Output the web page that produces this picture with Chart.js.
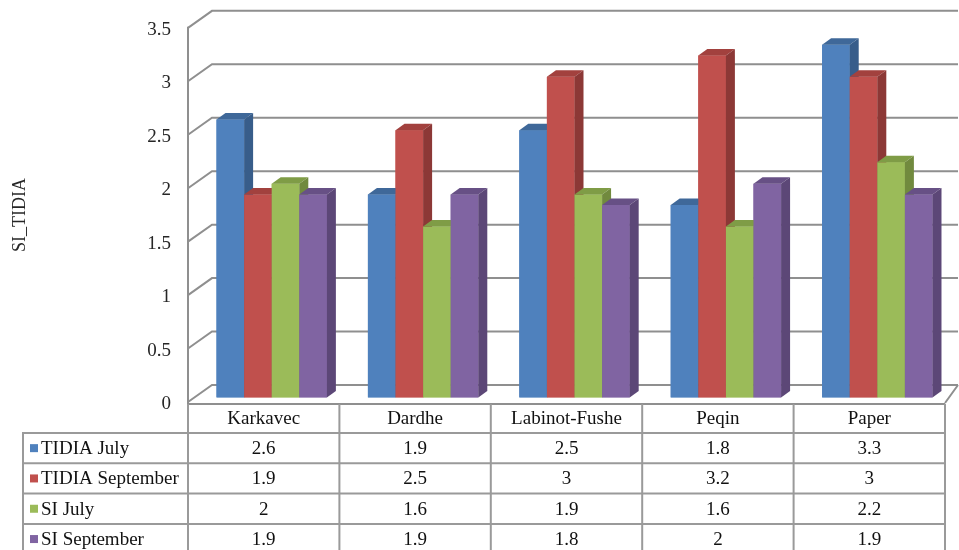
<!DOCTYPE html>
<html>
<head>
<meta charset="utf-8">
<title>SI_TIDIA</title>
<script src="https://cdn.jsdelivr.net/npm/chart.js@4.4.1/dist/chart.umd.min.js"></script>
<style>
  html, body { margin: 0; padding: 0; background: #ffffff; }
  canvas { display: block; }
</style>
</head>
<body>
<canvas id="chart" width="959" height="550"></canvas>
<script>
// ---- data ----
const categories = ['Karkavec', 'Dardhe', 'Labinot-Fushe', 'Peqin', 'Paper'];
const seriesNames = ['TIDIA July', 'TIDIA September', 'SI July', 'SI September'];
const tidiaJuly = [2.6, 1.9, 2.5, 1.8, 3.3];
const tidiaSeptember = [1.9, 2.5, 3, 3.2, 3];
const siJuly = [2, 1.6, 1.9, 1.6, 2.2];
const siSeptember = [1.9, 1.9, 1.8, 2, 1.9];
const yTicks = [0, 0.5, 1, 1.5, 2, 2.5, 3, 3.5];
const axisTitle = 'SI_TIDIA';

const seriesValues = [tidiaJuly, tidiaSeptember, siJuly, siSeptember];

// ---- styling ----
const frontColors = ['#4F81BD', '#C0504D', '#9BBB59', '#8064A2'];
const topColors   = ['#3F6899', '#A2413E', '#7F9C46', '#675085'];
const sideColors  = ['#385D8A', '#8C3836', '#718A3E', '#5C4777'];
const FONT = '"Liberation Serif", "Times New Roman", serif';
const GRID = '#8f8f8f';
const TABLE_LINE = '#9a9a9a';

// the bars stand a little behind the front edge of the floor
const SHIFT_X = 8, SHIFT_Y = 4.5;
// back wall offset at the left and right ends
const WALL_L = { dx: 24, dy: -17 };
const WALL_R = { dx: 13, dy: -17 };
// depth of a single bar
const BAR_D = { dx: 9, dy: -6.5 };

function geom(chart) {
  const xs = chart.scales.x, ys = chart.scales.y;
  const left = xs.left - SHIFT_X;
  const right = xs.right - SHIFT_X;
  const fy = v => ys.getPixelForValue(v) + SHIFT_Y;
  const colW = (right - left) / categories.length;
  const colCenter = i => xs.getPixelForValue(i) - SHIFT_X;
  return { xs, ys, left, right, fy, colW, colCenter };
}

function poly(ctx, pts, fill) {
  ctx.beginPath();
  ctx.moveTo(pts[0][0], pts[0][1]);
  for (let i = 1; i < pts.length; i++) ctx.lineTo(pts[i][0], pts[i][1]);
  ctx.closePath();
  ctx.fillStyle = fill;
  ctx.fill();
}

const wallsPlugin = {
  id: 'walls3d',
  beforeDatasetsDraw(chart) {
    const ctx = chart.ctx;
    const g = geom(chart);
    ctx.save();
    ctx.strokeStyle = GRID;
    ctx.lineWidth = 2;
    // side-wall slants and back-wall gridlines
    g.ys.ticks.forEach(t => {
      const yf = g.fy(t.value);
      ctx.beginPath();
      ctx.moveTo(g.left, yf);
      ctx.lineTo(g.left + WALL_L.dx, yf + WALL_L.dy);
      ctx.lineTo(g.right + WALL_R.dx, yf + WALL_R.dy);
      ctx.stroke();
    });
    // floor: front edge and right slant
    const y0 = g.fy(0);
    ctx.beginPath();
    ctx.moveTo(g.left, y0 + 2);
    ctx.lineTo(g.right, y0 + 2);
    ctx.moveTo(g.right, y0 + 1);
    ctx.lineTo(g.right + WALL_R.dx, y0 + WALL_R.dy);
    ctx.stroke();
    // front vertical axis
    ctx.beginPath();
    ctx.moveTo(g.left, g.fy(g.ys.max) - 1);
    ctx.lineTo(g.left, y0 + 3);
    ctx.stroke();

    // value axis labels
    ctx.fillStyle = '#262626';
    ctx.font = '19px ' + FONT;
    ctx.textAlign = 'right';
    ctx.textBaseline = 'middle';
    g.ys.ticks.forEach(t => {
      ctx.fillText(String(t.value), g.left - 17, g.fy(t.value) + 2);
    });

    // axis title
    ctx.save();
    ctx.translate(20, (g.fy(g.ys.max) + g.fy(0)) / 2);
    ctx.rotate(-Math.PI / 2);
    ctx.textAlign = 'center';
    ctx.font = '18px ' + FONT;
    ctx.fillText(axisTitle, 0, 0);
    ctx.restore();
    ctx.restore();
  },
  // repaint the bars series by series, left to right, adding their top and side faces
  afterDatasetsDraw(chart) {
    const ctx = chart.ctx;
    ctx.save();
    for (let i = 0; i < chart.data.datasets.length; i++) {
      const meta = chart.getDatasetMeta(i);
      meta.data.forEach(bar => {
        bar.draw(ctx, chart.chartArea);
        const p = bar.getProps(['x', 'y', 'base', 'width'], true);
        const x1 = p.x - p.width / 2, x2 = p.x + p.width / 2;
        const top = Math.min(p.y, p.base), base = Math.max(p.y, p.base);
        poly(ctx, [[x1, top], [x2, top], [x2 + BAR_D.dx, top + BAR_D.dy], [x1 + BAR_D.dx, top + BAR_D.dy]], topColors[i]);
        poly(ctx, [[x2, top], [x2 + BAR_D.dx, top + BAR_D.dy], [x2 + BAR_D.dx, base + BAR_D.dy], [x2, base]], sideColors[i]);
      });
    }
    ctx.restore();
  },
  afterDraw(chart) {
    const ctx = chart.ctx;
    const g = geom(chart);
    const tableLeft = 23;
    const headTop = g.fy(0) + 2;
    const headH = 29;
    const rowH = 30.3;
    const rowsTop = headTop + headH;
    const tableBottom = rowsTop + rowH * seriesNames.length;

    ctx.save();
    ctx.strokeStyle = TABLE_LINE;
    ctx.lineWidth = 2;
    ctx.beginPath();
    // horizontal rules
    for (let r = 0; r <= seriesNames.length; r++) {
      const y = rowsTop + r * rowH;
      ctx.moveTo(tableLeft, y);
      ctx.lineTo(g.right, y);
    }
    // vertical rules
    ctx.moveTo(tableLeft, rowsTop - 1);
    ctx.lineTo(tableLeft, tableBottom);
    for (let c = 0; c <= categories.length; c++) {
      const x = g.left + c * g.colW;
      ctx.moveTo(x, headTop);
      ctx.lineTo(x, tableBottom);
    }
    ctx.stroke();

    ctx.fillStyle = '#111111';
    ctx.font = '19px ' + FONT;
    ctx.textBaseline = 'middle';
    ctx.textAlign = 'center';
    categories.forEach((name, c) => {
      ctx.fillText(name, g.colCenter(c), headTop + headH / 2 + 1);
    });
    seriesNames.forEach((name, r) => {
      const cy = rowsTop + r * rowH + rowH / 2 + 1;
      ctx.textAlign = 'center';
      ctx.fillStyle = '#111111';
      seriesValues[r].forEach((v, c) => {
        ctx.fillText(String(v), g.colCenter(c), cy);
      });
      ctx.fillStyle = frontColors[r];
      ctx.fillRect(30, cy - 5, 8, 8);
      ctx.fillStyle = '#111111';
      ctx.textAlign = 'left';
      ctx.fillText(name, 41, cy);
    });
    ctx.restore();
  }
};

const datasets = seriesNames.map((name, i) => ({
  label: name,
  data: seriesValues[i],
  backgroundColor: frontColors[i],
  borderWidth: 0,
  categoryPercentage: 0.729,
  barPercentage: 1.0
}));

new Chart(document.getElementById('chart'), {
  type: 'bar',
  data: { labels: categories, datasets },
  options: {
    responsive: false,
    animation: false,
    devicePixelRatio: 1,
    layout: { padding: { left: 196, right: 6, top: 23.35, bottom: 152.5 } },
    plugins: { legend: { display: false }, tooltip: { enabled: false }, title: { display: false } },
    scales: {
      x: { display: false },
      y: {
        display: false,
        min: 0,
        max: 3.5,
        afterBuildTicks: s => { s.ticks = yTicks.map(v => ({ value: v })); }
      }
    }
  },
  plugins: [wallsPlugin]
});
</script>
</body>
</html>
